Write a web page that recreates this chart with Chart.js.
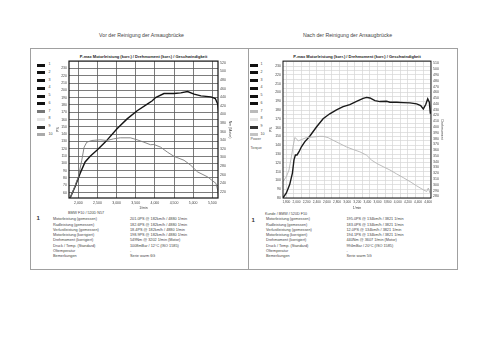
<!DOCTYPE html>
<html><head><meta charset="utf-8">
<script src="https://cdn.jsdelivr.net/npm/chart.js@4.4.1/dist/chart.umd.min.js"></script>
<style>
html,body{margin:0;padding:0;background:#fff;width:500px;height:354px;overflow:hidden;font-family:"Liberation Sans",Arial,sans-serif;color:#222;}
.a{position:absolute;white-space:nowrap;line-height:1;}
canvas{position:absolute;}
</style></head><body>
<div id="root"></div>
<canvas id="c1" width="176" height="153" style="left:56px;top:57px;width:176px;height:153px"></canvas>
<canvas id="c2" width="175" height="153" style="left:269px;top:57px;width:175px;height:153px"></canvas>
<script>
// ---------- DATA ----------
const leftPowerRpm = [1782,1913,2045,2176,2308,2484,2703,3010,3274,3537,3800,3932,4018,4237,4500,4676,4853,5026,5203,5466,5579,5642,5668];
const leftPowerPS  = [52.4,68.1,86.3,102.0,109.7,117.9,129.1,147.3,160.9,172.1,181.2,185.7,190.1,195.6,195.6,196.5,198.3,194.7,192.4,191.1,188.8,181.2,169.8];
const leftTorqueRpm = [1782,1869,2000,2089,2150,2221,2353,2571,2747,2921,3097,3361,3537,3711,3887,3974,4150,4326,4500,4763,4939,5116,5379,5597,5642,5668];
const leftTorqueNm  = [204.8,223.9,254.6,293.2,323.8,335.4,339.3,340.9,339.3,343.2,345.5,345.5,340.9,335.4,329.4,330.1,323.8,312.3,302.4,293.2,281.6,266.2,254.6,239.4,223.9,204.8];

const rightPowerRpm = [1733,1800,1865,1919,1950,1978,2010,2050,2097,2162,2261,2394,2525,2657,2790,2921,3053,3186,3317,3384,3450,3549,3648,3780,3846,3978,4109,4241,4374,4453,4505,4553,4592,4624,4644];
const rightPowerPS  = [80.2,85.8,95.2,108.3,123.3,128.9,128.9,132.6,138.2,143.8,150.2,160.7,170.1,175.7,180.2,183.9,186.2,189.9,193.3,194.4,193.7,190.7,189.6,189.9,188.8,188.8,188.4,188.1,187.0,185.1,181.3,186.2,192.6,188.8,175.7];
const rightTorqueRpm = [1733,1800,1851,1899,1931,1965,1998,2030,2097,2196,2327,2459,2525,2624,2723,2855,2988,3119,3251,3384,3483,3582,3713,3846,3978,4109,4241,4374,4505,4572,4604,4638];
const rightTorqueNm  = [305.7,314.2,325.7,348.5,365.6,381.7,380.0,375.9,378.3,381.7,382.7,383.9,383.9,381.7,377.1,371.4,365.6,361.2,357.1,351.4,342.8,337.2,331.4,325.7,318.9,312.5,305.7,298.3,291.5,288.6,294.4,285.8];

const leftXTicks  = [2000,2500,3000,3500,4000,4500,5000,5500];
const leftPSTicks = [60,70,80,90,100,110,120,130,140,150,160,170,180,190,200,210,220,230];
const leftNmTicks = [220,240,260,280,300,320,340,360,380,400,420,440,460,480,500,520];
const rightXTicks  = [1800,2000,2200,2400,2600,2800,3000,3200,3400,3600,3800,4000,4200,4400,4600];
const rightPSTicks = [80,90,100,110,120,130,140,150,160,170,180,190,200,210,220,230];
const rightNmTicks = [280,290,300,310,320,330,340,350,360,370,380,390,400,410,420,430,440,450,460,470,480,490,500,510];

const chartTitle = "P-max Motorleistung (korr.) / Drehmoment (korr.) / Geschwindigkeit";
const leftHeader = "BMW F10 / 520D N57";
const rightHeader = "Kunde / BMW / 520D F10";
const rowLabels = ["Motorleistung (gemessen)","Radleistung (gemessen)","Verlustleistung (gemessen)","Motorleistung (korrigiert)","Drehmoment (korrigiert)","Druck / Temp. (Standard)","Öltemperatur","Bemerkungen"];
const leftValues = ["201.0PS @ 182km/h / 4880 1/min","182.6PS @ 182km/h / 4880 1/min","18.4PS @ 182km/h / 4880 1/min","198.9PS @ 182km/h / 4880 1/min","549Nm @ 3202 1/min (Motor)","1008mBar / 12°C   (ISO 1585)","-","Serie warm 6G"];
const rightValues = ["195.0PS @ 134km/h / 3821 1/min","183.0PS @ 134km/h / 3821 1/min","12.0PS @ 134km/h / 3821 1/min","194.1PS @ 134km/h / 3821 1/min","440Nm @ 3607 1/min (Motor)","994mBar / 20°C   (ISO 1585)","-","Serie warm 5G"];
const legendNums = ["1","2","3","4","5","6","7","8","9","10"];

// ---------- STATIC LAYOUT ----------
const root = document.getElementById('root');
function el(css, text){const d=document.createElement('div');d.className='a';d.style.cssText=css;if(text!==undefined)d.textContent=text;root.appendChild(d);return d;}
el('left:30px;top:48px;width:428px;height:222px;border:1px solid #a0a0a0;box-sizing:border-box;');
el('left:248px;top:48px;width:0;height:222px;border-left:1px solid #a0a0a0;');
el('left:0;top:33px;width:283px;text-align:center;font-size:5.2px;color:#444;', 'Vor der Reinigung der Ansaugbrücke');
el('left:250px;top:33px;width:195px;text-align:center;font-size:5.2px;color:#444;', 'Nach der Reinigung der Ansaugbrücke');
el('left:69px;top:54.5px;width:149px;text-align:center;font-size:4px;font-weight:bold;color:#222;', chartTitle);
el('left:283px;top:54.5px;width:148px;text-align:center;font-size:4px;font-weight:bold;color:#222;', chartTitle);
const leftSw = ['#111','#111','#111','#111','#111','#111','#777','#e4e4e4','#333','#aaa'];
const rightSw = ['#111','#111','#111','#111','#111','#111','#bbb','#e4e4e4','#333','#c4c4c4'];
legendNums.forEach((n,i)=>{
  const y = 65 + i*7.75;
  el(`left:37px;top:${y-1.5}px;width:8px;height:3px;background:${leftSw[i]};`);
  el(`left:48.5px;top:${y-1.8}px;font-size:3.6px;color:#444;`, n);
  el(`left:250px;top:${y-1.5}px;width:7.5px;height:3px;background:${rightSw[i]};`);
  el(`left:260.5px;top:${y-1.8}px;font-size:3.6px;color:#444;`, n);
});
el('left:250.5px;top:137.5px;font-size:3.7px;color:#555;', 'Power');
el('left:250.5px;top:146.5px;font-size:3.7px;color:#555;', 'Torque');
el('left:36.5px;top:215px;font-size:6px;font-weight:bold;color:#333;', '1');
el('left:251.5px;top:216.5px;font-size:6px;font-weight:bold;color:#333;', '1');
el('left:68px;top:212.3px;font-size:3.7px;color:#444;', leftHeader);
el('left:265px;top:213.3px;font-size:3.7px;color:#444;', rightHeader);
rowLabels.forEach((t,i)=>{
  const y = 218.3 + i*5.25;
  el(`left:53px;top:${y}px;font-size:3.8px;color:#444;`, t);
  el(`left:130px;top:${y}px;font-size:3.8px;color:#444;`, leftValues[i]);
  el(`left:266px;top:${y}px;font-size:3.8px;color:#444;`, t);
  el(`left:346.5px;top:${y}px;font-size:3.8px;color:#444;`, rightValues[i]);
});

// ---------- CHARTS ----------
const FONT = {family:'"Liberation Sans", Arial, sans-serif', size:3.5, lineHeight:1.2};
const TC = '#444';
const fmt = v => Number(v).toLocaleString('en-US');
const frame = {id:'frame', afterDatasetsDraw(c){const {ctx, chartArea:a}=c; ctx.save(); ctx.strokeStyle='#111'; ctx.lineWidth=c.canvas.id==='c1'?1.2:1; ctx.strokeRect(a.left, a.top, a.right-a.left, a.bottom-a.top); ctx.restore();}};
const pts = (xs, ys) => xs.map((x,i)=>({x, y:ys[i]}));
const setTicks = arr => s => { s.ticks = arr.map(v=>({value:v})); };

new Chart(document.getElementById('c1'), {
  type:'line',
  data:{datasets:[
    {data:pts(leftTorqueRpm,leftTorqueNm), yAxisID:'y1', borderColor:'#7a7a7a', borderWidth:0.9, pointRadius:0, tension:0},
    {data:pts(leftPowerRpm,leftPowerPS), yAxisID:'y', borderColor:'#151515', borderWidth:1.4, pointRadius:0, tension:0}
  ]},
  options:{
    responsive:false, animation:false, devicePixelRatio:1,
    layout:{padding:{top:3,left:0,right:0,bottom:0}},
    plugins:{legend:{display:false}, tooltip:{enabled:false}},
    scales:{
      x:{type:'linear', min:1755, max:5650, afterBuildTicks:setTicks(leftXTicks), afterFit:s=>{s.height=12;},
         ticks:{font:FONT, color:TC, padding:2.5, maxRotation:0, autoSkip:false, callback:fmt},
         grid:{color:'#5a5a5a', lineWidth:0.8, drawTicks:false},
         border:{display:false},
         title:{display:true, text:'1/min', font:FONT, color:TC, padding:0}},
      y:{type:'linear', position:'left', min:52.6, max:240, afterBuildTicks:setTicks(leftPSTicks), afterFit:s=>{s.width=13;},
         ticks:{font:FONT, color:TC, padding:2, autoSkip:false},
         grid:{color:'#5a5a5a', lineWidth:0.8, drawTicks:false},
         border:{display:false},
         title:{display:true, text:'PS', font:FONT, color:TC, padding:0}},
      y1:{type:'linear', position:'right', min:205.5, max:524, afterBuildTicks:setTicks(leftNmTicks), afterFit:s=>{s.width=14;},
         ticks:{font:FONT, color:TC, padding:2, autoSkip:false},
         grid:{display:false, drawTicks:false},
         border:{display:false},
         title:{display:true, text:'Nm (Motor)', font:FONT, color:TC, padding:0}}
    }
  },
  plugins:[frame]
});

const rightPSGrid = []; for(let v=80; v<=235; v+=5) rightPSGrid.push(v);
const rightXGrid = []; for(let v=1800; v<=4657; v+=150) rightXGrid.push(v);

new Chart(document.getElementById('c2'), {
  type:'line',
  data:{datasets:[
    {data:pts(rightTorqueRpm,rightTorqueNm), yAxisID:'y1', borderColor:'#b4b4b4', borderWidth:0.9, pointRadius:0, tension:0},
    {data:pts(rightPowerRpm,rightPowerPS), yAxisID:'y', borderColor:'#1a1a1a', borderWidth:1.4, pointRadius:0, tension:0}
  ]},
  options:{
    responsive:false, animation:false, devicePixelRatio:1,
    layout:{padding:{top:3,left:0,right:0,bottom:0}},
    plugins:{legend:{display:false}, tooltip:{enabled:false}},
    scales:{
      x:{type:'linear', position:'bottom', min:1733, max:4657, afterBuildTicks:setTicks(rightXTicks), afterFit:s=>{s.height=12;},
         ticks:{font:{...FONT, size:3.2}, color:TC, padding:2.5, maxRotation:0, autoSkip:false, callback:fmt},
         grid:{display:false, drawTicks:false},
         border:{display:false},
         title:{display:true, text:'1/min', font:FONT, color:TC, padding:0}},
      xg:{type:'linear', position:'bottom', min:1733, max:4657, afterBuildTicks:setTicks(rightXGrid), afterFit:s=>{s.height=0;},
         ticks:{display:false}, grid:{color:'#d6d6d6', lineWidth:0.7, drawTicks:false}, border:{display:false}},
      y:{type:'linear', position:'left', min:80, max:235.6, afterBuildTicks:setTicks(rightPSGrid), afterFit:s=>{s.width=14;},
         ticks:{font:FONT, color:TC, padding:2, autoSkip:false, callback:v=>rightPSTicks.includes(v)?String(v):''},
         grid:{color:'#d6d6d6', lineWidth:0.7, drawTicks:false},
         border:{display:false},
         title:{display:true, text:'PS', font:FONT, color:TC, padding:0}},
      y1:{type:'linear', position:'right', min:277.3, max:514, afterBuildTicks:setTicks(rightNmTicks), afterFit:s=>{s.width=13;},
         ticks:{font:FONT, color:TC, padding:2, autoSkip:false},
         grid:{display:false, drawTicks:false},
         border:{display:false},
         title:{display:true, text:'Drehmoment', font:FONT, color:TC, padding:0}}
    }
  },
  plugins:[frame]
});
</script>
</body></html>
